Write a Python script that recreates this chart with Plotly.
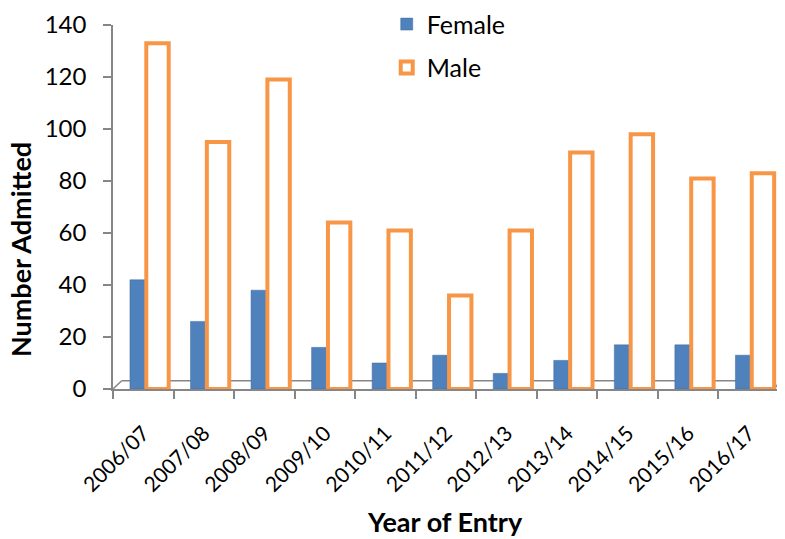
import plotly.graph_objects as go

years = ["2006/07", "2007/08", "2008/09", "2009/10", "2010/11", "2011/12",
         "2012/13", "2013/14", "2014/15", "2015/16", "2016/17"]
female = [42, 26, 38, 16, 10, 13, 6, 11, 17, 17, 13]
male = [133, 95, 119, 64, 61, 36, 61, 91, 98, 81, 83]
y_ticks = [0, 20, 40, 60, 80, 100, 120, 140]

FONT = "Lato, Carlito, Calibri, 'Open Sans', sans-serif"
GRAY = "#868686"

fig = go.Figure()
fig.add_trace(go.Bar(
    x=years, y=female, name="Female",
    marker=dict(color="#4F81BD", line=dict(color="#3E6A9E", width=0.5)),
    width=0.25, offset=-0.22, legendgroup="f",
))
fig.add_trace(go.Bar(
    x=years, y=male, name="Male",
    marker=dict(color="white", line=dict(color="#F79646", width=4)),
    width=0.37, offset=0.05, legendgroup="m",
))

# 3-D floor edge (decoration)
fig.add_shape(type="line", xref="paper", yref="y", x0=0.013, x1=0.99, y0=3.2, y1=3.2,
              line=dict(color=GRAY, width=1.5), layer="below")
fig.add_shape(type="line", xref="paper", yref="y", x0=0.0, x1=0.013, y0=0, y1=3.2,
              line=dict(color=GRAY, width=1.5), layer="below")
fig.add_shape(type="line", xref="paper", yref="y", x0=0.99, x1=1.0, y0=3.2, y1=0,
              line=dict(color=GRAY, width=1.5), layer="below")

# axis titles
fig.add_annotation(text="<b>Number Admitted</b>", xref="paper", yref="paper",
                   x=-0.138, y=0.382, xanchor="center", yanchor="middle",
                   textangle=-90, showarrow=False, font=dict(size=27))
fig.add_annotation(text="<b>Year of Entry</b>", xref="paper", yref="paper",
                   x=0.499, y=-0.365, xanchor="center", yanchor="middle",
                   showarrow=False, font=dict(size=27))

fig.update_layout(
    width=777, height=531,
    margin=dict(l=105, r=6, t=17, b=150, autoexpand=False),
    plot_bgcolor="white", paper_bgcolor="white",
    font=dict(family=FONT, size=22, color="black"),
    barmode="overlay",
    showlegend=True,
    legend=dict(x=0.411, y=1.065, xanchor="left", yanchor="top",
                font=dict(size=25), bgcolor="rgba(0,0,0,0)",
                tracegroupgap=8, itemwidth=30),
    xaxis=dict(
        range=[-0.5, 10.5], tickangle=-45, tickson="boundaries",
        ticks="outside", ticklen=8, tickcolor=GRAY, tickwidth=1.5,
        showline=True, linecolor=GRAY, linewidth=1.5, automargin=False,
        showgrid=False, tickfont=dict(size=21), ticklabelstandoff=22,
    ),
    yaxis=dict(
        range=[0, 140], tickvals=y_ticks, ticks="outside", ticklen=8,
        tickcolor=GRAY, tickwidth=1.5, showline=True, linecolor=GRAY, linewidth=1.5,
        showgrid=False, zeroline=False, tickfont=dict(size=24), automargin=False,
        ticklabelstandoff=12,
    ),
)

fig.write_html("out.html")
